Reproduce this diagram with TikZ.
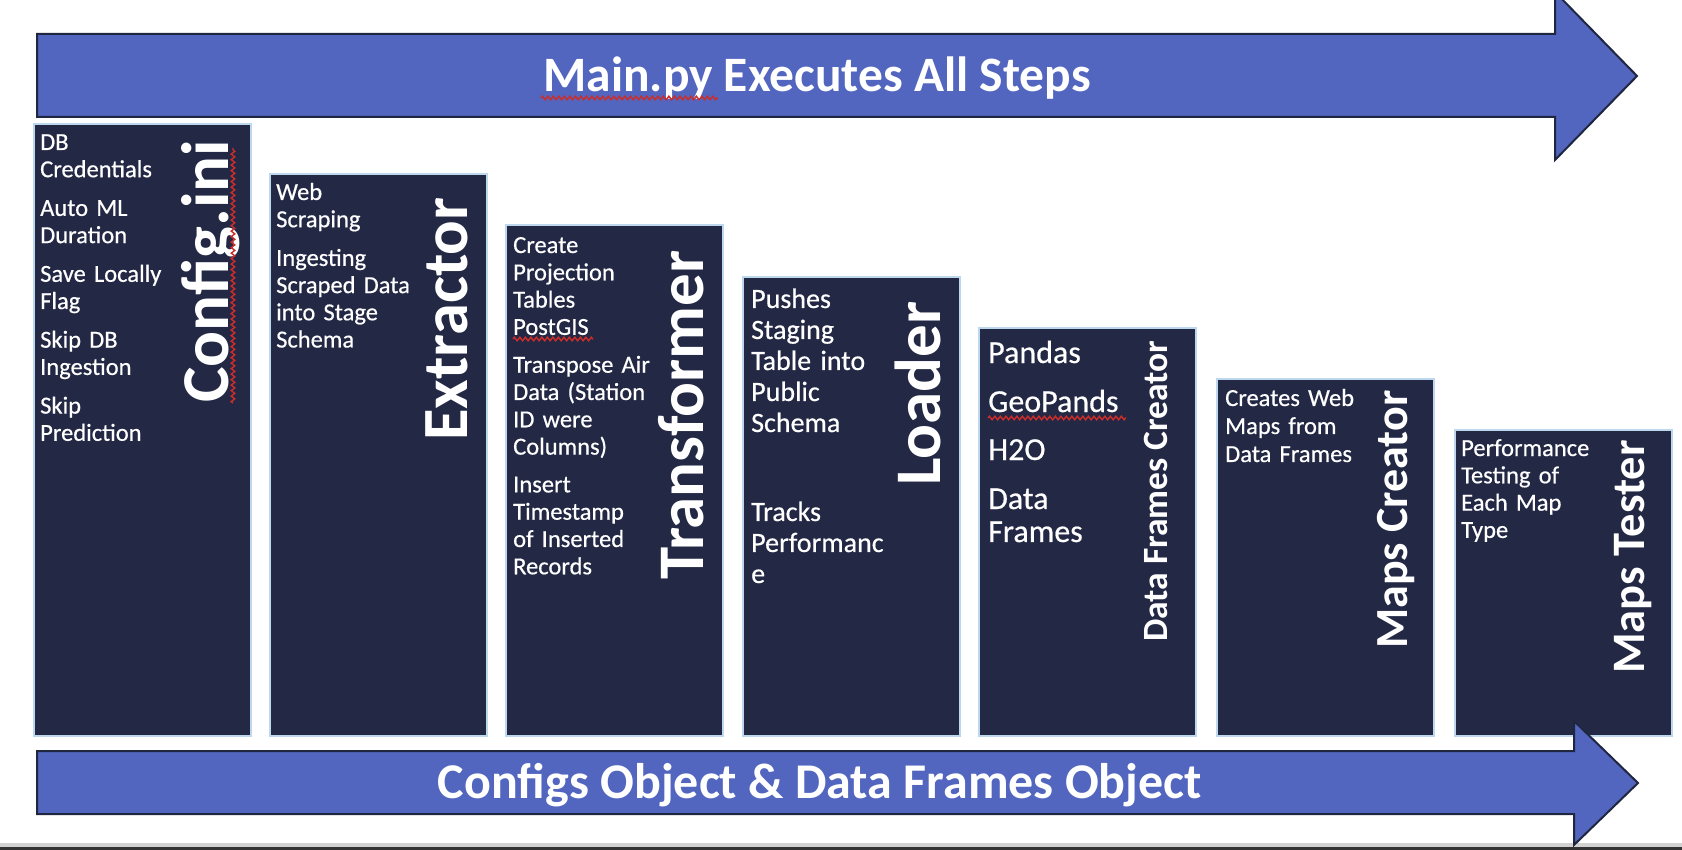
\documentclass[tikz,border=0pt]{standalone}
\usepackage{fontspec}
\setmainfont{Carlito}
\newfontfamily\bodyfont{Carlito}[FakeBold=0.5]
\usetikzlibrary{decorations.pathmorphing}
\definecolor{arrowblue}{RGB}{82,102,192}
\definecolor{arrowedge}{RGB}{31,38,64}
\definecolor{boxfill}{RGB}{35,40,69}
\definecolor{boxedge}{RGB}{189,215,238}
\definecolor{squig}{RGB}{205,45,40}
\tikzset{
  stagebox/.style={rectangle, draw=boxedge, fill=boxfill, line width=2pt, anchor=north west, inner sep=0pt, minimum width=217pt},
  titletext/.style={text=white, rotate=90, anchor=base west, inner sep=0pt, font=\bfseries\fontsize{#1}{#1}\selectfont},
  bodytext/.style={text=white, anchor=base west, inner sep=0pt, text width=230pt, align=left},
  arrowlabel/.style={text=white, anchor=base, inner sep=0pt, font=\bfseries\fontsize{#1}{#1}\selectfont},
  bigarrow/.style={fill=arrowblue, draw=arrowedge, line width=2pt, line join=miter},
  spell/.style={draw=squig, line width=1.4pt, decorate, decoration={zigzag, segment length=5.5pt, amplitude=1.8pt}}
}
\begin{document}
\begin{tikzpicture}[x=1pt, y=-1pt]
\useasboundingbox (0,0) rectangle (1682,850);
\clip (0,0) rectangle (1682,850);
% bottom screen edge
\fill[gray!35] (0,843) rectangle (1682,847);
\fill[black!80] (0,847) rectangle (1682,850);
% top arrow
\draw[bigarrow] (37,34) -- (1555,34) -- (1555,-8) -- (1637,76) -- (1555,160) -- (1555,117) -- (37,117) -- cycle;
\node[arrowlabel=49.5] (mainlbl) at (817,92) {Main.py Executes All Steps};
\draw[spell] (541,98) -- (718,98);
% boxes
\node[stagebox, minimum height=612pt] (b1) at (33,123) {};
\node[stagebox, minimum height=562pt] (b2) at (269,173) {};
\node[stagebox, minimum height=511pt] (b3) at (505,224) {};
\node[stagebox, minimum height=459pt] (b4) at (742,276) {};
\node[stagebox, minimum height=408pt] (b5) at (978,327) {};
\node[stagebox, minimum height=357pt] (b6) at (1216,378) {};
\node[stagebox, minimum height=306pt] (b7) at (1454,429) {};
% titles
\node[titletext=67] (h1) at (228,403) {Config.ini};
\draw[spell] (233,403) -- (233,148);
\node[titletext=64.5] (h2) at (467,441) {Extractor};
\node[titletext=65] (h3) at (703,580) {Transformer};
\node[titletext=65] (h4) at (940,486) {Loader};
\node[titletext=35.5] (h5) at (1167,642) {Data Frames Creator};
\node[titletext=46] (h6) at (1407,649) {Maps Creator};
\node[titletext=46.5] (h7) at (1644,674) {Maps Tester};
% body texts
\node[bodytext, font=\bodyfont\fontsize{24.5}{27.2}\selectfont] (t1) at (40,150)
  {DB\\Credentials\\[11.5pt]Auto ML\\Duration\\[11.5pt]Save Locally\\Flag\\[11.5pt]Skip DB\\Ingestion\\[11.5pt]Skip\\Prediction};
\node[bodytext, font=\bodyfont\fontsize{24.5}{27.2}\selectfont] (t2) at (276,200)
  {Web\\Scraping\\[11.5pt]Ingesting\\Scraped Data\\into Stage\\Schema};
\node[bodytext, font=\bodyfont\fontsize{24.5}{27.3}\selectfont] (t3) at (513,253)
  {Create\\Projection\\Tables\\PostGIS\\[10.5pt]Transpose Air\\Data (Station\\ID were\\Columns)\\[10.5pt]Insert\\Timestamp\\of Inserted\\Records};
\draw[spell] (513,339) -- (593,339);
\node[bodytext, font=\bodyfont\fontsize{28}{31}\selectfont] (t4) at (751,308)
  {Pushes\\Staging\\Table into\\Public\\Schema\\[58pt]Tracks\\Performanc\\e};
\node[bodytext, font=\bodyfont\fontsize{32}{33}\selectfont] (t5) at (988,363)
  {Pandas\\[16pt]GeoPands\\[15pt]H2O\\[16pt]Data\\Frames};
\draw[spell] (988,418) -- (1126,418);
\node[bodytext, font=\bodyfont\fontsize{24.5}{28}\selectfont] (t6) at (1225,406)
  {Creates Web\\Maps from\\Data Frames};
\node[bodytext, font=\bodyfont\fontsize{24.5}{27.3}\selectfont] (t7) at (1461,456)
  {Performance\\Testing of\\Each Map\\Type};
% bottom arrow
\draw[bigarrow] (37,751) -- (1574,751) -- (1574,721) -- (1638,783) -- (1574,845) -- (1574,814) -- (37,814) -- cycle;
\node[arrowlabel=50] (objlbl) at (820,798) {Configs Object \& Data Frames Object};
\end{tikzpicture}
\end{document}
